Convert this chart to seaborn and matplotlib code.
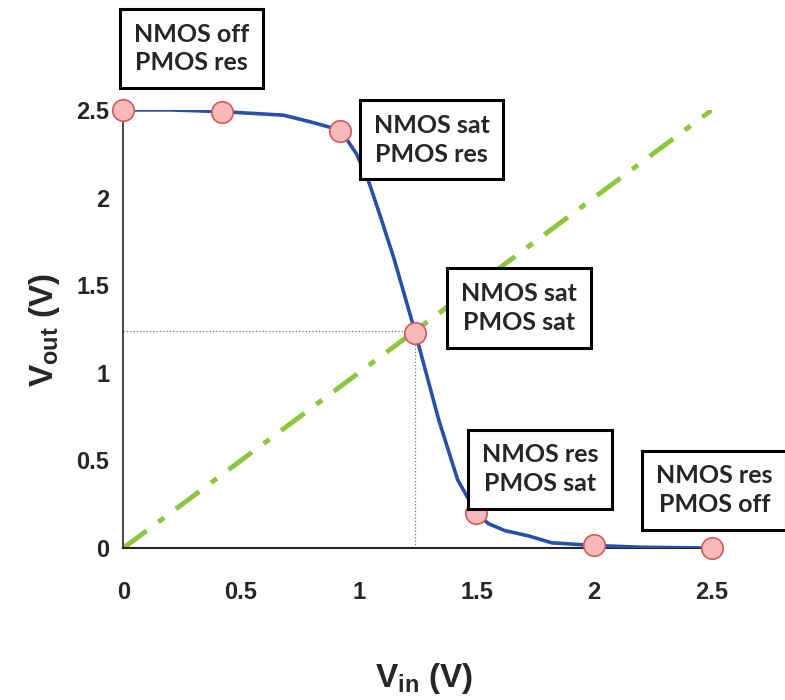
import matplotlib
matplotlib.use('Agg')
import matplotlib.pyplot as plt
import seaborn as sns
import pandas as pd

# transfer curve of the inverter
vin = [0.0, 0.2, 0.42, 0.55, 0.68, 0.8, 0.88, 0.94, 0.99, 1.04, 1.09, 1.15, 1.24, 1.34, 1.42, 1.47, 1.5, 1.55, 1.62, 1.72, 1.82, 2.0, 2.2, 2.5]
vout = [2.5, 2.5, 2.49, 2.48, 2.47, 2.43, 2.4, 2.35, 2.25, 2.1, 1.9, 1.65, 1.23, 0.73, 0.39, 0.27, 0.2, 0.14, 0.1, 0.07, 0.03, 0.015, 0.005, 0.0]

# marked operating points
pts_x = [0.0, 0.42, 0.92, 1.24, 1.5, 2.0, 2.5]
pts_y = [2.5, 2.49, 2.38, 1.23, 0.2, 0.015, 0.0]

# region labels
region_text = ["NMOS off\nPMOS res", "NMOS sat\nPMOS res", "NMOS sat\nPMOS sat",
               "NMOS res\nPMOS sat", "NMOS res\nPMOS off"]
region_x = [0.29, 1.31, 1.68, 1.77, 2.51]
region_y = [2.85, 2.33, 1.37, 0.45, 0.33]

vm = 1.24
ref_line = [0.0, 2.5]

sns.set_style("white")
plt.rcParams['font.family'] = ['Liberation Sans', 'DejaVu Sans']

df = pd.DataFrame({"vin": vin, "vout": vout})

fig = plt.figure(figsize=(7.85, 7.0), dpi=100)
ax = fig.add_axes([0.157, 0.217, 0.750, 0.626])

# Vin = Vout reference
ax.plot(ref_line, ref_line, color="#8dc63f", lw=3.5, linestyle=(0, (6, 3, 1.5, 3)), zorder=2)

# switching threshold guides
ax.plot([0, vm], [vm, vm], color="#777777", lw=0.9, linestyle=":", zorder=1)
ax.plot([vm, vm], [0, vm], color="#777777", lw=0.9, linestyle=":", zorder=1)

sns.lineplot(data=df, x="vin", y="vout", ax=ax, color="#2a4fa8", lw=2.6, zorder=3, sort=False)

ax.scatter(pts_x, pts_y, s=240, color="#f7b9b9", edgecolor="#d05a5a", linewidth=1.2,
           zorder=5, clip_on=False)

for t, x, y in zip(region_text, region_x, region_y):
    ax.text(x, y, t, ha="center", va="center", fontsize=18, fontweight="bold",
            family=["Lato", "DejaVu Sans"], linespacing=1.3,
            zorder=6, clip_on=False,
            bbox=dict(boxstyle="square,pad=0.55", fc="white", ec="black", lw=2.2))

ax.set_xlim(0, 2.5)
ax.set_ylim(0, 2.5)
ax.set_xticks([0, 0.5, 1, 1.5, 2, 2.5])
ax.set_xticklabels(["0", "0.5", "1", "1.5", "2", "2.5"])
ax.set_yticks([0, 0.5, 1, 1.5, 2, 2.5])
ax.set_yticklabels(["0", "0.5", "1", "1.5", "2", "2.5"])
ax.tick_params(axis="both", direction="out", length=6, width=1.2, labelsize=17, color="black")
ax.tick_params(axis="x", pad=18)
ax.tick_params(axis="y", pad=4)
for lab in ax.get_xticklabels() + ax.get_yticklabels():
    lab.set_fontweight("bold")

ax.spines["top"].set_visible(False)
ax.spines["right"].set_visible(False)
ax.spines["left"].set_linewidth(1.2)
ax.spines["bottom"].set_linewidth(1.5)
ax.set_xlabel("")
ax.set_ylabel("")

fig.text(0.54, 0.03, r"V$_{\mathregular{in}}$ (V)", ha="center", va="center",
         fontsize=24, fontweight="bold")
fig.text(0.057, 0.529, r"V$_{\mathregular{out}}$ (V)", ha="center", va="center",
         fontsize=24, fontweight="bold", rotation=90)

plt.savefig("out.png", dpi=100)
